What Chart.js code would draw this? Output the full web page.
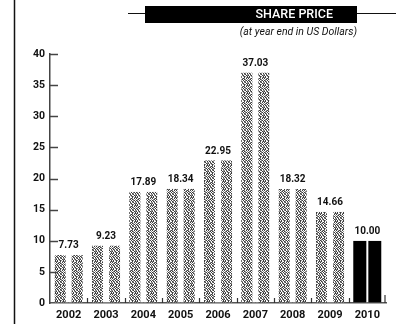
<!DOCTYPE html>
<html>
<head>
<meta charset="utf-8">
<script src="https://cdn.jsdelivr.net/npm/chart.js@4.4.1/dist/chart.umd.min.js"></script>
<style>
  html, body { margin: 0; padding: 0; background: #fff; }
  canvas { display: block; }
</style>
</head>
<body>
<canvas id="c" width="396" height="324"></canvas>
<script>
// Share price at year end, US dollars
const years = ['2002', '2003', '2004', '2005', '2006', '2007', '2008', '2009', '2010'];
const prices = [7.73, 9.23, 17.89, 18.34, 22.95, 37.03, 18.32, 14.66, 10.00];
const yTicks = [0, 5, 10, 15, 20, 25, 30, 35, 40];
const titleText = 'SHARE PRICE';
const subtitleText = '(at year end in US Dollars)';

const FONT = 'Roboto, "DejaVu Sans", sans-serif';
const lastIndex = years.length - 1;

// Grainy grey print texture for the bars (fixed 8x8 tile)
function makeTexture() {
  const rows = [
    '#:.#.:#.',
    '.#:.#:.#',
    ':.#.:#.:',
    '#.:#..#:',
    '.#.:#:.#',
    ':#..#.:#',
    '#.:#:.#.',
    '.:#.#:.:'
  ];
  const shade = { '#': '#3c3c3c', ':': '#8c8c8c', '.': '#ffffff' };
  const t = document.createElement('canvas');
  t.width = 8; t.height = 8;
  const g = t.getContext('2d');
  rows.forEach((row, y) => {
    [...row].forEach((ch, x) => {
      g.fillStyle = shade[ch];
      g.fillRect(x, y, 1, 1);
    });
  });
  return g.createPattern(t, 'repeat');
}
const texture = makeTexture();

function barFill(ctx) {
  return ctx.dataIndex === lastIndex ? '#000000' : texture;
}
// each year is printed as a pair of strips with a white seam between them
function innerSeam(side) {
  return (ctx) => {
    const w = ctx.dataIndex === lastIndex ? 1 : 3;
    return side === 'right'
      ? { left: 0, right: w, top: 0, bottom: 0 }
      : { left: w, right: 0, top: 0, bottom: 0 };
  };
}

const decorations = {
  id: 'decorations',
  afterDatasetsDraw(chart) {
    const { ctx } = chart;
    const a = chart.getDatasetMeta(0).data;
    const b = chart.getDatasetMeta(1).data;
    ctx.save();
    ctx.fillStyle = '#111';
    ctx.font = 'bold 10px ' + FONT;
    ctx.textAlign = 'center';
    ctx.textBaseline = 'bottom';
    prices.forEach((v, i) => {
      const x = (a[i].x + b[i].x) / 2;
      const y = Math.min(a[i].y, b[i].y) - 4;
      ctx.fillText(v.toFixed(2), x, y);
    });
    ctx.restore();
  },
  afterDraw(chart) {
    const { ctx, chartArea, scales } = chart;
    const ys = scales.y, xs = scales.x;
    ctx.save();

    // tick marks pointing into the plot
    ctx.strokeStyle = '#444';
    ctx.lineWidth = 1.5;
    yTicks.forEach(v => {
      if (v === 0) return;
      const py = Math.round(ys.getPixelForValue(v)) + 0.5;
      ctx.beginPath();
      ctx.moveTo(chartArea.left, py);
      ctx.lineTo(chartArea.left + 8, py);
      ctx.stroke();
    });
    // short upright ticks between the years
    ctx.strokeStyle = '#333';
    ctx.lineWidth = 1.2;
    for (let i = 0; i < years.length - 1; i++) {
      const px = Math.round((xs.getPixelForValue(i) + xs.getPixelForValue(i + 1)) / 2) + 0.5;
      ctx.beginPath();
      ctx.moveTo(px, chartArea.bottom);
      ctx.lineTo(px, chartArea.bottom - 5);
      ctx.stroke();
    }
    ctx.beginPath();
    ctx.moveTo(chartArea.right - 1, chartArea.bottom);
    ctx.lineTo(chartArea.right - 1, chartArea.bottom - 8);
    ctx.stroke();

    // page margin rule
    ctx.strokeStyle = '#111';
    ctx.lineWidth = 1.5;
    ctx.beginPath();
    ctx.moveTo(14.5, 0);
    ctx.lineTo(14.5, chart.height);
    ctx.stroke();

    // heading bar
    ctx.strokeStyle = '#111';
    ctx.lineWidth = 1;
    ctx.beginPath();
    ctx.moveTo(128, 13.5);
    ctx.lineTo(chart.width, 13.5);
    ctx.stroke();
    ctx.fillStyle = '#000';
    ctx.fillRect(145, 6, 212, 17);
    ctx.fillStyle = '#fff';
    ctx.font = '500 12.5px ' + FONT;
    ctx.textAlign = 'right';
    ctx.textBaseline = 'middle';
    ctx.fillText(titleText, 333, 14.5);

    ctx.fillStyle = '#111';
    ctx.font = 'italic 10.5px ' + FONT;
    ctx.fillText(subtitleText, 357, 32.5);
    ctx.restore();
  }
};

new Chart(document.getElementById('c'), {
  type: 'bar',
  data: {
    labels: years,
    datasets: [
      {
        data: prices,
        backgroundColor: barFill,
        borderColor: '#ffffff',
        borderWidth: innerSeam('right'),
        borderSkipped: false,
        barPercentage: 1,
        categoryPercentage: 0.76
      },
      {
        data: prices,
        backgroundColor: barFill,
        borderColor: '#ffffff',
        borderWidth: innerSeam('left'),
        borderSkipped: false,
        barPercentage: 1,
        categoryPercentage: 0.76
      }
    ]
  },
  options: {
    responsive: false,
    animation: false,
    devicePixelRatio: 1,
    layout: { padding: { top: 54, right: 10, left: 0, bottom: 0 } },
    plugins: {
      legend: { display: false },
      tooltip: { enabled: false },
      title: { display: false }
    },
    scales: {
      x: {
        z: 1,
        grid: { display: true, drawOnChartArea: false, drawTicks: false },
        border: { display: true, color: '#555', width: 1.5 },
        ticks: {
          color: '#111',
          padding: 6,
          font: { family: FONT, size: 11, weight: 'bold' }
        },
        afterFit(scale) { scale.height = 21; }
      },
      y: {
        z: 1,
        min: 0,
        max: 40,
        afterBuildTicks(scale) { scale.ticks = yTicks.map(v => ({ value: v })); },
        grid: { display: true, drawOnChartArea: false, drawTicks: false },
        border: { display: true, color: '#444', width: 1.5 },
        ticks: {
          color: '#111',
          padding: 5,
          font: { family: FONT, size: 10.5, weight: 'bold' }
        },
        afterFit(scale) { scale.width = 50; }
      }
    }
  },
  plugins: [decorations]
});
</script>
</body>
</html>
